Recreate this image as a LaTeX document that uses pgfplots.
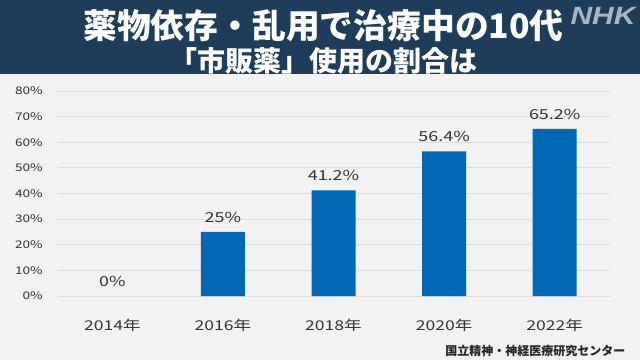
\documentclass[border=0pt]{standalone}
\usepackage{fontspec}
\setmainfont{Noto Sans CJK JP}
\newfontfamily\numfont[FakeStretch=1.3]{Noto Sans CJK JP}
\newfontfamily\nhkfont[FakeStretch=1.2]{Liberation Sans}
\usepackage{pgfplots}
\pgfplotsset{compat=1.18}
\definecolor{hdr}{HTML}{1E3D5A}
\definecolor{bg}{HTML}{F2F2F2}
\definecolor{barc}{HTML}{0068B7}
\definecolor{gridc}{HTML}{DDDDDD}
\definecolor{txt}{HTML}{333333}
\definecolor{nhk}{HTML}{A8B6C4}
\begin{document}
\begin{tikzpicture}
\fill[bg] (0pt,0pt) rectangle (640pt,360pt);
\fill[hdr] (0pt,286pt) rectangle (640pt,360pt);
\node[white,font=\fontsize{33.8}{33.8}\selectfont\bfseries] at (323.5pt,334.5pt) {薬物依存・乱用で治療中の10代};
\node[white,font=\fontsize{28}{28}\selectfont\bfseries] at (323.5pt,299pt) {「市販薬」使用の割合は};
\node[nhk,inner sep=0pt,font=\nhkfont\fontsize{25}{25}\selectfont\bfseries\itshape] at (603pt,344.5pt) {NHK};
\begin{axis}[
  at={(57pt,64pt)}, anchor=south west,
  scale only axis, width=553pt, height=205pt,
  xmin=-0.5, xmax=4.5, ymin=0, ymax=80,
  ytick={0,10,...,80},
  yticklabels={0\%,10\%,20\%,30\%,40\%,50\%,60\%,70\%,80\%},
  xtick={0,1,2,3,4},
  xticklabels={2014年,2016年,2018年,2020年,2022年},
  axis line style={draw=none},
  major tick style={draw=none},
  ymajorgrids, grid style={gridc, line width=0.8pt},
  yticklabel style={font=\numfont\fontsize{10.5}{10.5}\selectfont, text=txt, anchor=east, inner sep=0pt, xshift=-14pt},
  xticklabel style={font=\numfont\fontsize{13.5}{13.5}\selectfont, text=txt, anchor=base, inner sep=0pt, yshift=-30pt},
  ybar, bar width=44pt, bar shift=0pt,
  point meta=explicit symbolic,
  nodes near coords,
  nodes near coords style={font=\numfont\fontsize{13.8}{13.8}\selectfont, text=txt, anchor=base, inner sep=0pt, yshift=9.5pt},
]
\addplot[fill=none, draw=none] coordinates {
  (0,0) [0\%]
};
\addplot[fill=barc, draw=none] coordinates {
  (1,25) [25\%]
  (2,41.2) [41.2\%]
  (3,56.4) [56.4\%]
  (4,65.2) [65.2\%]
};
\end{axis}
\node[anchor=east,text=black!85,font=\fontsize{12}{12}\selectfont\bfseries] at (629pt,9pt) {国立精神・神経医療研究センター};
\pgfresetboundingbox
\useasboundingbox (0pt,0pt) rectangle (640pt,360pt);
\end{tikzpicture}
\end{document}
